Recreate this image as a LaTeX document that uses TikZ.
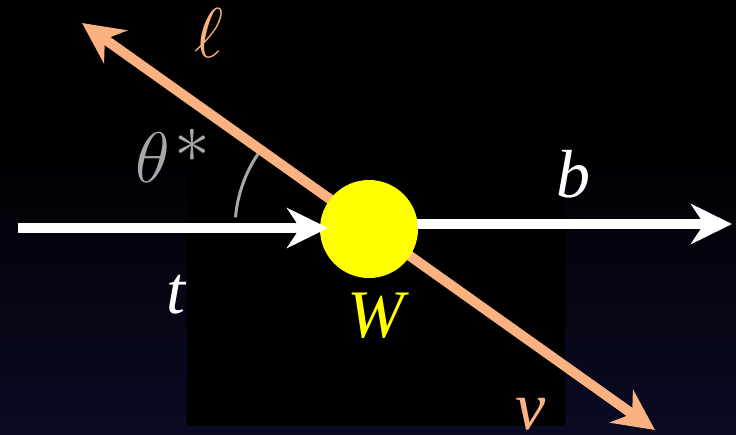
\documentclass[tikz,border=0pt]{standalone}
\usepackage{graphicx}
\usepackage[no-math]{fontspec}
\setmainfont{Liberation Serif}
\usetikzlibrary{arrows.meta}
\definecolor{peach}{RGB}{252,178,128}
\definecolor{navy}{RGB}{10,10,36}
\definecolor{anglegray}{RGB}{168,168,168}
\definecolor{wyellow}{RGB}{255,255,0}
\tikzset{
  bigtip/.tip={Stealth[length=41pt,width=40pt,inset=13pt]},
  whitearrow/.style={draw=white,line width=10pt,-bigtip},
  orangearrow/.style={draw=peach,line width=10pt,bigtip-bigtip},
  anglearc/.style={draw=anglegray,line width=3pt},
  lbl/.style={anchor=base,inner sep=0pt,font=\fontsize{68}{72}\selectfont\itshape},
  mlbl/.style={anchor=base,inner sep=0pt,font=\fontsize{20.74}{24}\selectfont}
}
\tikzset{ball/.style={circle,fill=wyellow,minimum size=98pt,inner sep=0pt}}
\begin{document}
\begin{tikzpicture}[x=1pt,y=-1pt]
\useasboundingbox (0,0) rectangle (736,434);
% background
\fill[black] (0,0) rectangle (736,434);
\shade[top color=black,bottom color=navy] (0,130) rectangle (736,434);
\fill[black] (187,130) rectangle (565,426);
% coordinates
\coordinate (ltip) at (82,23);
\coordinate (vtip) at (655,430);
\coordinate (tstart) at (18,228);
\coordinate (tend) at (328,228);
\coordinate (bstart) at (417,224);
\coordinate (bend) at (732,224);
% orange line behind the ball
\draw[orangearrow] (vtip) -- (ltip);
% W ball
\node[ball] (W) at (369,229) {};
% white arrows
\draw[whitearrow] (tstart) -- (tend);
\draw[whitearrow] (bstart) -- (bend);
% angle arc
\draw[anglearc] ([shift={(185:134)}]W.center) arc[start angle=185,end angle=214,radius=134];
% labels
\node[mlbl,text=peach] (ell) at (209,57) {\scalebox{3.4}{$\ell$}};
\node[mlbl,text=anglegray] (theta) at (173,182) {\scalebox{3.45}{$\theta\mkern1mu\raisebox{0.27em}{$\ast$}$}};
\node[lbl,text=white] (blbl) at (573,197) {b};
\node[lbl,text=white] (tlbl) at (176,313) {t};
\node[lbl,text=wyellow] (Wlbl) at (376,337) {W};
\node[lbl,text=peach] (vlbl) at (531,429) {v};
\end{tikzpicture}
\end{document}
